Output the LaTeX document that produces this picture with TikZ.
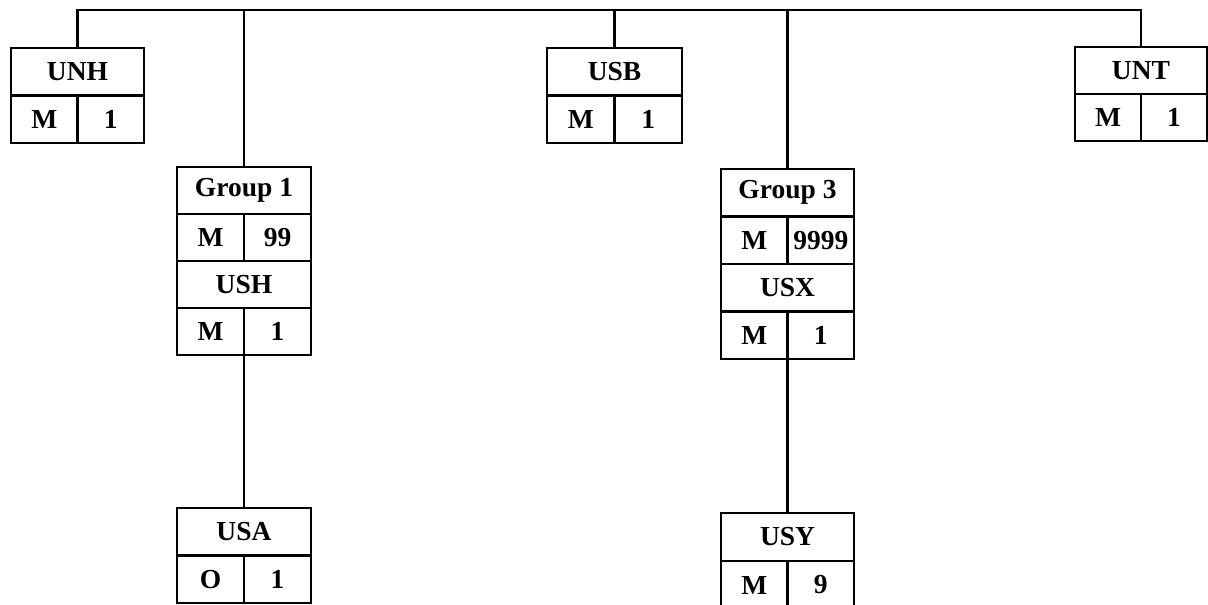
\documentclass[tikz,border=0pt]{standalone}
\usepackage{fontspec}
\setmainfont{Liberation Serif}
\tikzset{
  cell/.style={draw, line width=2.4pt, inner sep=0pt, outer sep=0pt,
    font=\bfseries\fontsize{27.5}{31}\selectfont},
  conn/.style={line width=2.4pt}
}
% #1 name, #2 x, #3 top y, #4 width, #5 row height, #6 title, #7 left, #8 right
\newcommand{\mkbox}[8]{%
  \node[cell, anchor=north west, minimum width=#4pt, minimum height=#5pt] (#1t) at (#2,#3) {#6};
  \node[cell, anchor=north west, minimum width={#4pt/2}, minimum height=#5pt] (#1l) at (#1t.south west) {#7};
  \node[cell, anchor=north east, minimum width={#4pt/2}, minimum height=#5pt] (#1r) at (#1t.south east) {#8};
}
\begin{document}
\begin{tikzpicture}[x=1pt,y=-1pt]
\useasboundingbox (0,0) rectangle (1208,605);
\clip (0,0) rectangle (1208,605);
\mkbox{unh}{11}{48}{133}{47.5}{UNH}{M}{1}
\mkbox{usb}{547}{48}{135}{47.5}{USB}{M}{1}
\mkbox{unt}{1075}{47}{132}{47}{UNT}{M}{1}
\mkbox{ga}{177}{167}{134}{47}{Group 1}{M}{99}
\mkbox{ush}{177}{261}{134}{47}{USH}{M}{1}
\mkbox{gc}{721}{169}{133}{47.5}{Group 3}{M}{9999}
\mkbox{usx}{721}{264}{133}{47.5}{USX}{M}{1}
\mkbox{usa}{177}{508}{134}{47.5}{USA}{O}{1}
\mkbox{usy}{721}{513}{133}{48}{USY}{M}{9}
\coordinate (bus) at (0,10);
\draw[conn] (unht.north) |- (bus -| untt.north) -- (untt.north);
\draw[conn] (gat.north) -- (gat.north |- bus);
\draw[conn] (usbt.north) -- (usbt.north |- bus);
\draw[conn] (gct.north) -- (gct.north |- bus);
\draw[conn] (ushl.south east) -- (usat.north);
\draw[conn] (usxl.south east) -- (usyt.north);
\end{tikzpicture}
\end{document}
